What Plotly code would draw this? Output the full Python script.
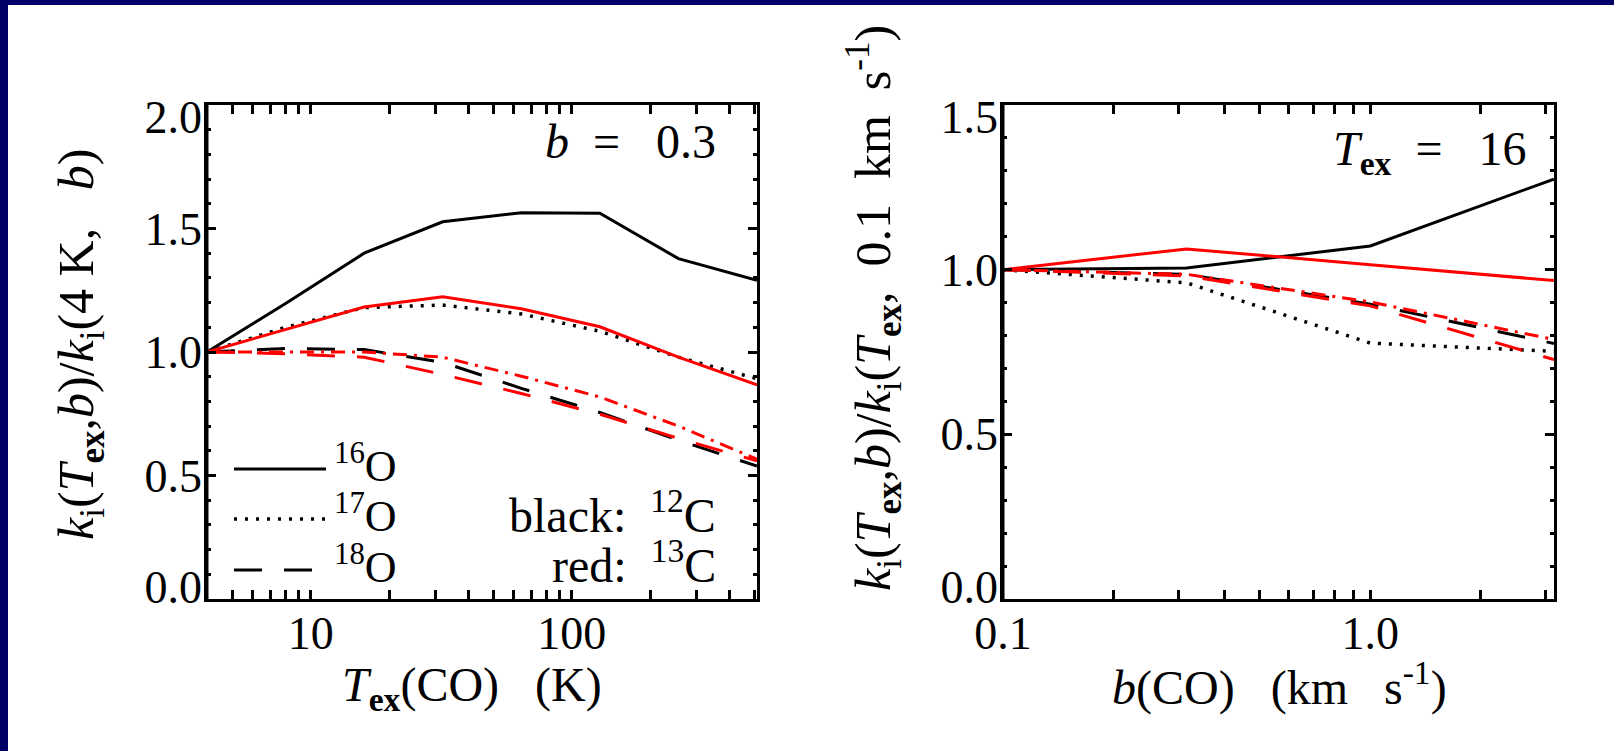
import plotly.graph_objects as go

# ---------------- data ----------------
T_ex = [4, 8, 16, 32, 64, 128, 256, 512]
k_16O_12C_T = [1.00, 1.196, 1.40, 1.527, 1.564, 1.562, 1.378, 1.29]
k_17O_12C_T = [1.00, 1.10, 1.18, 1.19, 1.154, 1.084, 0.979, 0.892]
k_18O_12C_T = [1.00, 1.014, 1.01, 0.958, 0.853, 0.755, 0.643, 0.538]
k_16O_13C_T = [1.00, 1.09, 1.182, 1.224, 1.175, 1.102, 0.979, 0.867]
k_17O_13C_T = [1.00, 1.00, 1.00, 0.979, 0.902, 0.818, 0.70, 0.566]
k_18O_13C_T = [1.00, 0.993, 0.979, 0.909, 0.832, 0.748, 0.65, 0.559]

b_CO = [0.1, 0.316, 1.0, 3.16]
k_16O_12C_b = [1.0, 1.005, 1.072, 1.275]
k_17O_12C_b = [1.0, 0.96, 0.777, 0.752]
k_18O_12C_b = [1.0, 0.986, 0.895, 0.776]
k_16O_13C_b = [1.0, 1.063, 1.015, 0.967]
k_17O_13C_b = [1.0, 0.986, 0.902, 0.788]
k_18O_13C_b = [1.0, 0.981, 0.89, 0.727]

x1_ticks = [10, 100]
x1_ticktext = ["10", "100"]
x1_minor = [5, 6, 7, 8, 9, 20, 30, 40, 50, 60, 70, 80, 90, 200, 300, 400, 500]
x2_ticks = [0.1, 1.0]
x2_ticktext = ["0.1", "1.0"]
x2_minor = [0.2, 0.3, 0.4, 0.5, 0.6, 0.7, 0.8, 0.9, 2, 3]
y1_ticks = [0, 0.5, 1.0, 1.5, 2.0]
y1_ticktext = ["0.0", "0.5", "1.0", "1.5", "2.0"]
y2_ticks = [0, 0.5, 1.0, 1.5]
y2_ticktext = ["0.0", "0.5", "1.0", "1.5"]

# ---------------- styling ----------------
W, H = 1614, 751
FONT = "Liberation Serif"
NAVY = "#000066"
RED = "#ff0000"
LW = 3
DOT = "3px,8px"
DASH = "28px,22px"
DASHDOT = "14px,7px,3px,7px"
NB = "\u00a0"
PLOT_TOP, PLOT_BOT = 105, 599
END_LABEL_INSET = 12  # px: end tick labels pulled inside the axis span


def px(x):
    return x / W


def py(y):
    return 1 - y / H


def label_positions(ticks, lo, hi):
    """End labels nudged inward by a few pixels (converted to data units)."""
    per_px = (hi - lo) / (PLOT_BOT - PLOT_TOP)
    out = []
    for t in ticks:
        if t == lo:
            out.append(t + END_LABEL_INSET * per_px)
        elif t == hi:
            out.append(t - END_LABEL_INSET * per_px)
        else:
            out.append(t)
    return out


fig = go.Figure()

left = [
    (k_16O_12C_T, "black", "solid", LW),
    (k_17O_12C_T, "black", DOT, 3.5),
    (k_18O_12C_T, "black", DASH, LW),
    (k_16O_13C_T, RED, "solid", LW),
    (k_17O_13C_T, RED, DASHDOT, LW),
    (k_18O_13C_T, RED, DASH, LW),
]
for ys, col, dash, w in left:
    fig.add_trace(go.Scatter(x=T_ex, y=ys, mode="lines", xaxis="x", yaxis="y",
                             line=dict(color=col, width=w, dash=dash),
                             showlegend=False))

right = [
    (k_16O_12C_b, "black", "solid", LW),
    (k_17O_12C_b, "black", DOT, 3.5),
    (k_18O_12C_b, "black", DASH, LW),
    (k_16O_13C_b, RED, "solid", LW),
    (k_17O_13C_b, RED, DASHDOT, LW),
    (k_18O_13C_b, RED, DASH, LW),
]
for ys, col, dash, w in right:
    fig.add_trace(go.Scatter(x=b_CO, y=ys, mode="lines", xaxis="x2", yaxis="y2",
                             line=dict(color=col, width=w, dash=dash),
                             showlegend=False))

# empty helper traces so the label-only axes get drawn
fig.add_trace(go.Scatter(x=[None], y=[None], xaxis="x", yaxis="y3", mode="lines",
                         showlegend=False, hoverinfo="skip"))
fig.add_trace(go.Scatter(x=[None], y=[None], xaxis="x2", yaxis="y4", mode="lines",
                         showlegend=False, hoverinfo="skip"))

tickfont = dict(family=FONT, size=46, color="black")
common_axis = dict(
    showline=True, linecolor="black", linewidth=3, mirror="allticks",
    ticks="inside", ticklen=9, tickwidth=2.5, tickcolor="black",
    showgrid=False, zeroline=False, tickfont=tickfont,
)

ydom = [py(PLOT_BOT), py(PLOT_TOP)]
minor_common = dict(ticks="inside", ticklen=4, tickwidth=2.5, tickcolor="black")

label_axis = dict(showline=False, ticks="", showgrid=False, zeroline=False,
                  tickfont=tickfont, ticklabelstandoff=4, side="left")

fig.update_layout(
    width=W, height=H,
    margin=dict(l=0, r=0, t=0, b=0, autoexpand=False),
    paper_bgcolor=NAVY,
    plot_bgcolor="white",
    showlegend=False,
    xaxis=dict(common_axis, type="log", domain=[px(207), px(757)],
               range=[0.60206, 2.70927], tickvals=x1_ticks, ticktext=x1_ticktext,
               anchor="y", minor=dict(minor_common, tickvals=x1_minor)),
    yaxis=dict(common_axis, domain=ydom, range=[0, 2.0], tickvals=y1_ticks,
               showticklabels=False, anchor="x",
               minor=dict(minor_common, dtick=0.1)),
    xaxis2=dict(common_axis, type="log", domain=[px(1003), px(1554)],
                range=[-1, 0.5], tickvals=x2_ticks, ticktext=x2_ticktext,
                anchor="y2", minor=dict(minor_common, tickvals=x2_minor)),
    yaxis2=dict(common_axis, domain=ydom, range=[0, 1.5], tickvals=y2_ticks,
                showticklabels=False, anchor="x2",
                minor=dict(minor_common, dtick=0.1)),
    yaxis3=dict(label_axis, overlaying="y", anchor="x", range=[0, 2.0],
                tickvals=label_positions(y1_ticks, 0, 2.0), ticktext=y1_ticktext),
    yaxis4=dict(label_axis, overlaying="y2", anchor="x2", range=[0, 1.5],
                tickvals=label_positions(y2_ticks, 0, 1.5), ticktext=y2_ticktext),
)

for ax in ("xaxis", "xaxis2"):
    try:
        fig.layout[ax].ticklabelstandoff = -8
    except Exception:
        fig.layout[ax].ticklabelstandoff = 0

shapes = [
    dict(type="rect", xref="paper", yref="paper", x0=px(8), x1=1, y0=0, y1=py(5),
         fillcolor="white", line=dict(width=0), layer="below"),
]
# frame edges on the left (drawn over the overlay axes)
for xd in (px(207), px(1003)):
    shapes.append(dict(type="line", xref="paper", yref="paper", x0=xd, x1=xd,
                       y0=py(PLOT_BOT + 1.5), y1=py(PLOT_TOP - 1.5),
                       line=dict(color="black", width=3)))
legend_rows = [(469, "solid", "16", LW), (519, DOT, "17", 3.5), (570, DASH, "18", LW)]
for yy, dash, _, w in legend_rows:
    shapes.append(dict(type="line", xref="paper", yref="paper",
                       x0=px(234), x1=px(326), y0=py(yy), y1=py(yy),
                       line=dict(color="black", width=w, dash=dash)))
fig.update_layout(shapes=shapes)

ann = []
tf = dict(family=FONT, size=44, color="black")
tf_big = dict(family=FONT, size=48, color="black")
tf_title = dict(family=FONT, size=50, color="black")
for yy, _, iso, _w in legend_rows:
    ann.append(dict(xref="paper", yref="paper", x=px(332), y=py(yy - 6),
                    text=f"<sup>{iso}</sup>O", showarrow=False,
                    xanchor="left", yanchor="middle", font=tf))
ann.append(dict(xref="paper", yref="paper", x=px(718), y=py(512),
                text=f"black:{NB} <sup>12</sup>C", showarrow=False,
                xanchor="right", yanchor="middle", font=tf_big))
ann.append(dict(xref="paper", yref="paper", x=px(718), y=py(562),
                text=f"red:{NB} <sup>13</sup>C", showarrow=False,
                xanchor="right", yanchor="middle", font=tf_big))
ann.append(dict(xref="paper", yref="paper", x=px(718), y=py(141),
                text=f"<i>b</i>{NB}{NB}={NB}{NB} 0.3", showarrow=False,
                xanchor="right", yanchor="middle", font=tf_big))
ann.append(dict(xref="paper", yref="paper", x=px(1528), y=py(152),
                text=f"<i>T</i><sub><b>ex</b></sub>{NB}{NB}={NB}{NB} 16", showarrow=False,
                xanchor="right", yanchor="middle", font=tf_big))
# axis titles
ann.append(dict(xref="paper", yref="paper", x=px(472), y=py(688),
                text=f"<i>T</i><sub><b>ex</b></sub>(CO){NB}{NB} (K)", showarrow=False,
                xanchor="center", yanchor="middle", font=tf_big))
ann.append(dict(xref="paper", yref="paper", x=px(1279), y=py(684),
                text=f"<i>b</i>(CO){NB}{NB} (km{NB}{NB} s<sup>-1</sup>)", showarrow=False,
                xanchor="center", yanchor="middle", font=tf_big))
ann.append(dict(xref="paper", yref="paper", x=px(80), y=py(345), textangle=-90,
                text=f"<i>k</i><sub>i</sub>(<i>T</i><sub><b>ex</b></sub>,<i>b</i>)/<i>k</i><sub>i</sub>(4{NB}K,{NB}{NB} <i>b</i>)",
                showarrow=False, xanchor="center", yanchor="middle", font=tf_title))
ann.append(dict(xref="paper", yref="paper", x=px(873), y=py(308), textangle=-90,
                text=f"<i>k</i><sub>i</sub>(<i>T</i><sub><b>ex</b></sub>,<i>b</i>)/<i>k</i><sub>i</sub>(<i>T</i><sub><b>ex</b></sub>,{NB} 0.1{NB} km{NB} s<sup>-1</sup>)",
                showarrow=False, xanchor="center", yanchor="middle", font=tf_title))
fig.update_layout(annotations=ann)

fig.write_html("out.html", config={"displayModeBar": False},
               post_script="document.body.style.margin='0';document.body.style.overflow='hidden';")
